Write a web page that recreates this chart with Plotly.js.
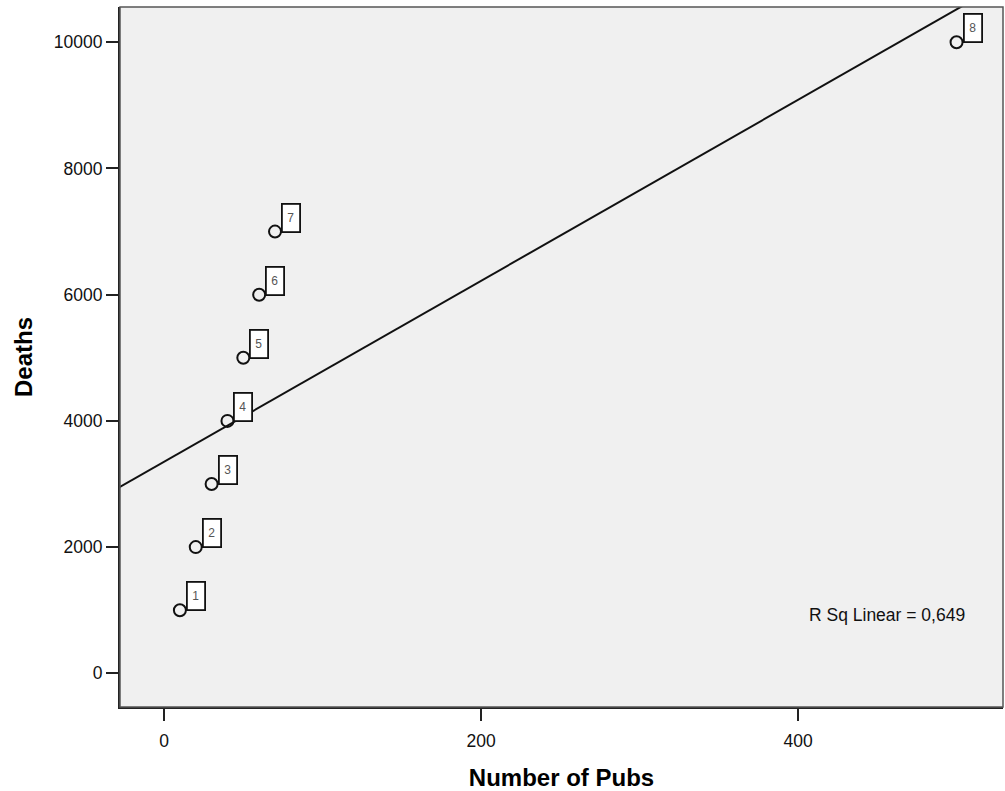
<!DOCTYPE html>
<html>
<head>
<meta charset="utf-8">
<script src="https://cdn.plot.ly/plotly-3.0.1.min.js"></script>
<style>html,body{margin:0;padding:0;background:#fff;}#chart{width:1005px;height:791px;}</style>
</head>
<body>
<div id="chart"></div>
<script>
// Data
var pubs = [10, 20, 30, 40, 50, 60, 70, 500];
var deaths = [1000, 2000, 3000, 4000, 5000, 6000, 7000, 10000];
var caseLabels = ['1', '2', '3', '4', '5', '6', '7', '8'];
var xTickVals = [0, 200, 400];
var yTickVals = [0, 2000, 4000, 6000, 8000, 10000];
var xTitle = 'Number of Pubs';
var yTitle = 'Deaths';

// Linear regression from the data
var n = pubs.length;
var mx = pubs.reduce(function(a, b){return a + b;}, 0) / n;
var my = deaths.reduce(function(a, b){return a + b;}, 0) / n;
var sxx = 0, sxy = 0, syy = 0;
for (var i = 0; i < n; i++) {
  sxx += (pubs[i] - mx) * (pubs[i] - mx);
  sxy += (pubs[i] - mx) * (deaths[i] - my);
  syy += (deaths[i] - my) * (deaths[i] - my);
}
var slope = sxy / sxx;
var intercept = my - slope * mx;
var r2 = (sxy * sxy) / (sxx * syy);
var r2Text = 'R Sq Linear = ' + r2.toFixed(3).replace('.', ',');

var xRange = [-27.8, 529.3];
var yRange = [-534, 10559];
var lineX = [xRange[0] - 20, xRange[1] + 20];
var lineY = lineX.map(function(x){return intercept + slope * x;});

var traces = [
  {
    x: lineX, y: lineY, mode: 'lines', type: 'scatter',
    line: {color: '#111', width: 2}, hoverinfo: 'skip', showlegend: false
  },
  {
    x: pubs, y: deaths, mode: 'markers', type: 'scatter',
    marker: {symbol: 'circle-open', size: 12, color: '#111', line: {width: 2, color: '#111'}},
    showlegend: false, cliponaxis: false
  }
];

var annotations = pubs.map(function(x, i){
  return {
    x: x, y: deaths[i], xref: 'x', yref: 'y', text: caseLabels[i],
    showarrow: false, xanchor: 'left', yanchor: 'bottom', xshift: 6, yshift: -1,
    width: 14, height: 24, borderpad: 1, borderwidth: 1.8, bordercolor: '#111',
    bgcolor: '#ffffff', font: {family: 'Liberation Sans, Arial, sans-serif', size: 12, color: '#555'}
  };
});
annotations.push({
  x: 0.869, y: 0.131, xref: 'paper', yref: 'paper', text: r2Text, showarrow: false,
  xanchor: 'center', yanchor: 'middle',
  font: {family: 'Liberation Sans, Arial, sans-serif', size: 17.5, color: '#111'}
});

var layout = {
  width: 1005, height: 791,
  margin: {l: 120, r: 2, t: 7, b: 84},
  paper_bgcolor: '#ffffff', plot_bgcolor: '#f0f0f0',
  font: {family: 'Liberation Sans, Arial, sans-serif', size: 17.5, color: '#111'},
  xaxis: {
    range: xRange, tickvals: xTickVals, ticktext: xTickVals.map(String),
    ticks: 'outside', ticklen: 12, tickwidth: 2, tickcolor: '#222',
    ticklabelstandoff: 5,
    showgrid: false, zeroline: false, showline: true, linecolor: '#222', linewidth: 2,
    tickfont: {size: 17.5, color: '#111'},
    title: {text: xTitle, font: {size: 24, color: '#000', weight: 'bold'}, standoff: 21}
  },
  yaxis: {
    range: yRange, tickvals: yTickVals, ticktext: yTickVals.map(String),
    ticks: 'outside', ticklen: 12, tickwidth: 2, tickcolor: '#222',
    showgrid: false, zeroline: false, showline: true, linecolor: '#222', linewidth: 2,
    tickfont: {size: 17.5, color: '#111'},
    title: {text: yTitle, font: {size: 24, color: '#000', weight: 'bold'}, standoff: 14}
  },
  shapes: [{
    type: 'rect', xref: 'paper', yref: 'paper', x0: 0, x1: 1, y0: 0, y1: 1,
    line: {color: '#555', width: 1.5}, layer: 'above'
  }],
  annotations: annotations,
  showlegend: false
};

Plotly.newPlot('chart', traces, layout, {displayModeBar: false, staticPlot: true});
</script>
</body>
</html>
